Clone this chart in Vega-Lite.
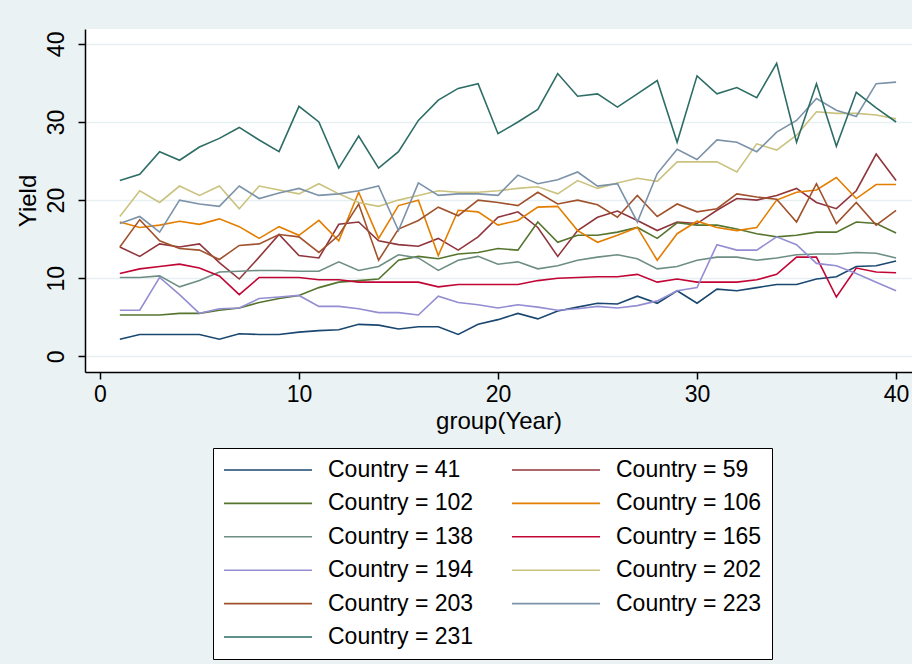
{
"$schema": "https://vega.github.io/schema/vega-lite/v6.json",
"width": 827, "height": 343,
"autosize": {"type": "none"},
"padding": {"left": 85, "top": 29, "right": 0, "bottom": 292},
"background": "#eaf2f3",
"config": {"view": {"fill": "white", "stroke": null}, "font": "Liberation Sans"},
"data": {"values": [
{"Country":"41","Year":1,"Yield":2.2},{"Country":"41","Year":2,"Yield":2.8},{"Country":"41","Year":3,"Yield":2.8},{"Country":"41","Year":4,"Yield":2.8},{"Country":"41","Year":5,"Yield":2.8},{"Country":"41","Year":6,"Yield":2.2},{"Country":"41","Year":7,"Yield":2.9},{"Country":"41","Year":8,"Yield":2.8},{"Country":"41","Year":9,"Yield":2.8},{"Country":"41","Year":10,"Yield":3.1},{"Country":"41","Year":11,"Yield":3.3},{"Country":"41","Year":12,"Yield":3.4},{"Country":"41","Year":13,"Yield":4.1},{"Country":"41","Year":14,"Yield":4.0},{"Country":"41","Year":15,"Yield":3.5},{"Country":"41","Year":16,"Yield":3.8},{"Country":"41","Year":17,"Yield":3.8},{"Country":"41","Year":18,"Yield":2.8},{"Country":"41","Year":19,"Yield":4.1},{"Country":"41","Year":20,"Yield":4.7},{"Country":"41","Year":21,"Yield":5.5},{"Country":"41","Year":22,"Yield":4.8},{"Country":"41","Year":23,"Yield":5.8},{"Country":"41","Year":24,"Yield":6.3},{"Country":"41","Year":25,"Yield":6.8},{"Country":"41","Year":26,"Yield":6.7},{"Country":"41","Year":27,"Yield":7.7},{"Country":"41","Year":28,"Yield":6.8},{"Country":"41","Year":29,"Yield":8.4},{"Country":"41","Year":30,"Yield":6.8},{"Country":"41","Year":31,"Yield":8.6},{"Country":"41","Year":32,"Yield":8.4},{"Country":"41","Year":33,"Yield":8.8},{"Country":"41","Year":34,"Yield":9.2},{"Country":"41","Year":35,"Yield":9.2},{"Country":"41","Year":36,"Yield":9.9},{"Country":"41","Year":37,"Yield":10.2},{"Country":"41","Year":38,"Yield":11.5},{"Country":"41","Year":39,"Yield":11.6},{"Country":"41","Year":40,"Yield":12.2},
{"Country":"59","Year":1,"Yield":14.0},{"Country":"59","Year":2,"Yield":12.8},{"Country":"59","Year":3,"Yield":14.4},{"Country":"59","Year":4,"Yield":14.0},{"Country":"59","Year":5,"Yield":14.4},{"Country":"59","Year":6,"Yield":12.0},{"Country":"59","Year":7,"Yield":9.9},{"Country":"59","Year":8,"Yield":12.7},{"Country":"59","Year":9,"Yield":15.6},{"Country":"59","Year":10,"Yield":12.9},{"Country":"59","Year":11,"Yield":12.6},{"Country":"59","Year":12,"Yield":16.9},{"Country":"59","Year":13,"Yield":17.2},{"Country":"59","Year":14,"Yield":14.8},{"Country":"59","Year":15,"Yield":14.3},{"Country":"59","Year":16,"Yield":14.1},{"Country":"59","Year":17,"Yield":15.1},{"Country":"59","Year":18,"Yield":13.6},{"Country":"59","Year":19,"Yield":15.3},{"Country":"59","Year":20,"Yield":17.8},{"Country":"59","Year":21,"Yield":18.5},{"Country":"59","Year":22,"Yield":16.5},{"Country":"59","Year":23,"Yield":12.8},{"Country":"59","Year":24,"Yield":16.1},{"Country":"59","Year":25,"Yield":17.8},{"Country":"59","Year":26,"Yield":18.6},{"Country":"59","Year":27,"Yield":17.4},{"Country":"59","Year":28,"Yield":16.1},{"Country":"59","Year":29,"Yield":17.2},{"Country":"59","Year":30,"Yield":17.0},{"Country":"59","Year":31,"Yield":18.7},{"Country":"59","Year":32,"Yield":20.2},{"Country":"59","Year":33,"Yield":20.0},{"Country":"59","Year":34,"Yield":20.6},{"Country":"59","Year":35,"Yield":21.5},{"Country":"59","Year":36,"Yield":19.7},{"Country":"59","Year":37,"Yield":18.9},{"Country":"59","Year":38,"Yield":21.2},{"Country":"59","Year":39,"Yield":25.9},{"Country":"59","Year":40,"Yield":22.5},
{"Country":"102","Year":1,"Yield":5.3},{"Country":"102","Year":2,"Yield":5.3},{"Country":"102","Year":3,"Yield":5.3},{"Country":"102","Year":4,"Yield":5.5},{"Country":"102","Year":5,"Yield":5.5},{"Country":"102","Year":6,"Yield":5.9},{"Country":"102","Year":7,"Yield":6.2},{"Country":"102","Year":8,"Yield":6.9},{"Country":"102","Year":9,"Yield":7.4},{"Country":"102","Year":10,"Yield":7.8},{"Country":"102","Year":11,"Yield":8.8},{"Country":"102","Year":12,"Yield":9.5},{"Country":"102","Year":13,"Yield":9.7},{"Country":"102","Year":14,"Yield":9.9},{"Country":"102","Year":15,"Yield":12.3},{"Country":"102","Year":16,"Yield":12.8},{"Country":"102","Year":17,"Yield":12.5},{"Country":"102","Year":18,"Yield":13.1},{"Country":"102","Year":19,"Yield":13.3},{"Country":"102","Year":20,"Yield":13.8},{"Country":"102","Year":21,"Yield":13.6},{"Country":"102","Year":22,"Yield":17.2},{"Country":"102","Year":23,"Yield":14.6},{"Country":"102","Year":24,"Yield":15.5},{"Country":"102","Year":25,"Yield":15.5},{"Country":"102","Year":26,"Yield":15.9},{"Country":"102","Year":27,"Yield":16.5},{"Country":"102","Year":28,"Yield":15.1},{"Country":"102","Year":29,"Yield":17.1},{"Country":"102","Year":30,"Yield":16.8},{"Country":"102","Year":31,"Yield":16.8},{"Country":"102","Year":32,"Yield":16.3},{"Country":"102","Year":33,"Yield":15.7},{"Country":"102","Year":34,"Yield":15.3},{"Country":"102","Year":35,"Yield":15.5},{"Country":"102","Year":36,"Yield":15.9},{"Country":"102","Year":37,"Yield":15.9},{"Country":"102","Year":38,"Yield":17.2},{"Country":"102","Year":39,"Yield":17.0},{"Country":"102","Year":40,"Yield":15.8},
{"Country":"106","Year":1,"Yield":17.2},{"Country":"106","Year":2,"Yield":16.5},{"Country":"106","Year":3,"Yield":16.8},{"Country":"106","Year":4,"Yield":17.3},{"Country":"106","Year":5,"Yield":16.9},{"Country":"106","Year":6,"Yield":17.6},{"Country":"106","Year":7,"Yield":16.6},{"Country":"106","Year":8,"Yield":15.1},{"Country":"106","Year":9,"Yield":16.6},{"Country":"106","Year":10,"Yield":15.5},{"Country":"106","Year":11,"Yield":17.4},{"Country":"106","Year":12,"Yield":14.8},{"Country":"106","Year":13,"Yield":21.0},{"Country":"106","Year":14,"Yield":15.1},{"Country":"106","Year":15,"Yield":19.3},{"Country":"106","Year":16,"Yield":20.0},{"Country":"106","Year":17,"Yield":12.9},{"Country":"106","Year":18,"Yield":18.7},{"Country":"106","Year":19,"Yield":18.5},{"Country":"106","Year":20,"Yield":16.8},{"Country":"106","Year":21,"Yield":17.4},{"Country":"106","Year":22,"Yield":19.1},{"Country":"106","Year":23,"Yield":19.2},{"Country":"106","Year":24,"Yield":16.1},{"Country":"106","Year":25,"Yield":14.6},{"Country":"106","Year":26,"Yield":15.5},{"Country":"106","Year":27,"Yield":16.5},{"Country":"106","Year":28,"Yield":12.3},{"Country":"106","Year":29,"Yield":15.7},{"Country":"106","Year":30,"Yield":17.3},{"Country":"106","Year":31,"Yield":16.5},{"Country":"106","Year":32,"Yield":16.1},{"Country":"106","Year":33,"Yield":16.5},{"Country":"106","Year":34,"Yield":20.0},{"Country":"106","Year":35,"Yield":21.0},{"Country":"106","Year":36,"Yield":21.3},{"Country":"106","Year":37,"Yield":22.9},{"Country":"106","Year":38,"Yield":20.2},{"Country":"106","Year":39,"Yield":22.0},{"Country":"106","Year":40,"Yield":22.0},
{"Country":"138","Year":1,"Yield":10.1},{"Country":"138","Year":2,"Yield":10.1},{"Country":"138","Year":3,"Yield":10.3},{"Country":"138","Year":4,"Yield":8.9},{"Country":"138","Year":5,"Yield":9.7},{"Country":"138","Year":6,"Yield":10.8},{"Country":"138","Year":7,"Yield":10.9},{"Country":"138","Year":8,"Yield":11.0},{"Country":"138","Year":9,"Yield":11.0},{"Country":"138","Year":10,"Yield":10.9},{"Country":"138","Year":11,"Yield":10.9},{"Country":"138","Year":12,"Yield":12.1},{"Country":"138","Year":13,"Yield":11.0},{"Country":"138","Year":14,"Yield":11.5},{"Country":"138","Year":15,"Yield":13.0},{"Country":"138","Year":16,"Yield":12.6},{"Country":"138","Year":17,"Yield":11.0},{"Country":"138","Year":18,"Yield":12.3},{"Country":"138","Year":19,"Yield":12.8},{"Country":"138","Year":20,"Yield":11.8},{"Country":"138","Year":21,"Yield":12.1},{"Country":"138","Year":22,"Yield":11.2},{"Country":"138","Year":23,"Yield":11.6},{"Country":"138","Year":24,"Yield":12.3},{"Country":"138","Year":25,"Yield":12.7},{"Country":"138","Year":26,"Yield":13.0},{"Country":"138","Year":27,"Yield":12.5},{"Country":"138","Year":28,"Yield":11.2},{"Country":"138","Year":29,"Yield":11.5},{"Country":"138","Year":30,"Yield":12.3},{"Country":"138","Year":31,"Yield":12.7},{"Country":"138","Year":32,"Yield":12.7},{"Country":"138","Year":33,"Yield":12.3},{"Country":"138","Year":34,"Yield":12.6},{"Country":"138","Year":35,"Yield":13.0},{"Country":"138","Year":36,"Yield":13.1},{"Country":"138","Year":37,"Yield":13.1},{"Country":"138","Year":38,"Yield":13.3},{"Country":"138","Year":39,"Yield":13.2},{"Country":"138","Year":40,"Yield":12.6},
{"Country":"165","Year":1,"Yield":10.6},{"Country":"165","Year":2,"Yield":11.2},{"Country":"165","Year":3,"Yield":11.5},{"Country":"165","Year":4,"Yield":11.8},{"Country":"165","Year":5,"Yield":11.3},{"Country":"165","Year":6,"Yield":10.3},{"Country":"165","Year":7,"Yield":7.9},{"Country":"165","Year":8,"Yield":10.1},{"Country":"165","Year":9,"Yield":10.1},{"Country":"165","Year":10,"Yield":10.1},{"Country":"165","Year":11,"Yield":9.8},{"Country":"165","Year":12,"Yield":9.8},{"Country":"165","Year":13,"Yield":9.5},{"Country":"165","Year":14,"Yield":9.5},{"Country":"165","Year":15,"Yield":9.5},{"Country":"165","Year":16,"Yield":9.5},{"Country":"165","Year":17,"Yield":8.9},{"Country":"165","Year":18,"Yield":9.2},{"Country":"165","Year":19,"Yield":9.2},{"Country":"165","Year":20,"Yield":9.2},{"Country":"165","Year":21,"Yield":9.2},{"Country":"165","Year":22,"Yield":9.7},{"Country":"165","Year":23,"Yield":10.0},{"Country":"165","Year":24,"Yield":10.1},{"Country":"165","Year":25,"Yield":10.2},{"Country":"165","Year":26,"Yield":10.2},{"Country":"165","Year":27,"Yield":10.5},{"Country":"165","Year":28,"Yield":9.5},{"Country":"165","Year":29,"Yield":9.9},{"Country":"165","Year":30,"Yield":9.5},{"Country":"165","Year":31,"Yield":9.5},{"Country":"165","Year":32,"Yield":9.5},{"Country":"165","Year":33,"Yield":9.8},{"Country":"165","Year":34,"Yield":10.5},{"Country":"165","Year":35,"Yield":12.7},{"Country":"165","Year":36,"Yield":12.7},{"Country":"165","Year":37,"Yield":7.6},{"Country":"165","Year":38,"Yield":11.3},{"Country":"165","Year":39,"Yield":10.8},{"Country":"165","Year":40,"Yield":10.7},
{"Country":"194","Year":1,"Yield":5.9},{"Country":"194","Year":2,"Yield":5.9},{"Country":"194","Year":3,"Yield":10.1},{"Country":"194","Year":4,"Yield":7.9},{"Country":"194","Year":5,"Yield":5.5},{"Country":"194","Year":6,"Yield":6.1},{"Country":"194","Year":7,"Yield":6.2},{"Country":"194","Year":8,"Yield":7.4},{"Country":"194","Year":9,"Yield":7.6},{"Country":"194","Year":10,"Yield":7.8},{"Country":"194","Year":11,"Yield":6.4},{"Country":"194","Year":12,"Yield":6.4},{"Country":"194","Year":13,"Yield":6.1},{"Country":"194","Year":14,"Yield":5.6},{"Country":"194","Year":15,"Yield":5.6},{"Country":"194","Year":16,"Yield":5.3},{"Country":"194","Year":17,"Yield":7.7},{"Country":"194","Year":18,"Yield":6.9},{"Country":"194","Year":19,"Yield":6.6},{"Country":"194","Year":20,"Yield":6.2},{"Country":"194","Year":21,"Yield":6.6},{"Country":"194","Year":22,"Yield":6.3},{"Country":"194","Year":23,"Yield":5.9},{"Country":"194","Year":24,"Yield":6.1},{"Country":"194","Year":25,"Yield":6.4},{"Country":"194","Year":26,"Yield":6.2},{"Country":"194","Year":27,"Yield":6.5},{"Country":"194","Year":28,"Yield":7.1},{"Country":"194","Year":29,"Yield":8.4},{"Country":"194","Year":30,"Yield":8.8},{"Country":"194","Year":31,"Yield":14.3},{"Country":"194","Year":32,"Yield":13.6},{"Country":"194","Year":33,"Yield":13.6},{"Country":"194","Year":34,"Yield":15.3},{"Country":"194","Year":35,"Yield":14.3},{"Country":"194","Year":36,"Yield":11.9},{"Country":"194","Year":37,"Yield":11.6},{"Country":"194","Year":38,"Yield":10.6},{"Country":"194","Year":39,"Yield":9.5},{"Country":"194","Year":40,"Yield":8.4},
{"Country":"202","Year":1,"Yield":17.9},{"Country":"202","Year":2,"Yield":21.2},{"Country":"202","Year":3,"Yield":19.7},{"Country":"202","Year":4,"Yield":21.8},{"Country":"202","Year":5,"Yield":20.6},{"Country":"202","Year":6,"Yield":21.8},{"Country":"202","Year":7,"Yield":18.9},{"Country":"202","Year":8,"Yield":21.8},{"Country":"202","Year":9,"Yield":21.3},{"Country":"202","Year":10,"Yield":20.8},{"Country":"202","Year":11,"Yield":22.1},{"Country":"202","Year":12,"Yield":20.8},{"Country":"202","Year":13,"Yield":19.7},{"Country":"202","Year":14,"Yield":19.2},{"Country":"202","Year":15,"Yield":20.0},{"Country":"202","Year":16,"Yield":20.6},{"Country":"202","Year":17,"Yield":21.2},{"Country":"202","Year":18,"Yield":21.0},{"Country":"202","Year":19,"Yield":21.0},{"Country":"202","Year":20,"Yield":21.2},{"Country":"202","Year":21,"Yield":21.5},{"Country":"202","Year":22,"Yield":21.7},{"Country":"202","Year":23,"Yield":20.8},{"Country":"202","Year":24,"Yield":22.5},{"Country":"202","Year":25,"Yield":21.5},{"Country":"202","Year":26,"Yield":22.2},{"Country":"202","Year":27,"Yield":22.8},{"Country":"202","Year":28,"Yield":22.4},{"Country":"202","Year":29,"Yield":24.9},{"Country":"202","Year":30,"Yield":24.9},{"Country":"202","Year":31,"Yield":24.9},{"Country":"202","Year":32,"Yield":23.6},{"Country":"202","Year":33,"Yield":27.2},{"Country":"202","Year":34,"Yield":26.4},{"Country":"202","Year":35,"Yield":28.3},{"Country":"202","Year":36,"Yield":31.3},{"Country":"202","Year":37,"Yield":31.1},{"Country":"202","Year":38,"Yield":31.1},{"Country":"202","Year":39,"Yield":30.9},{"Country":"202","Year":40,"Yield":30.4},
{"Country":"203","Year":1,"Yield":14.0},{"Country":"203","Year":2,"Yield":17.5},{"Country":"203","Year":3,"Yield":14.8},{"Country":"203","Year":4,"Yield":13.8},{"Country":"203","Year":5,"Yield":13.6},{"Country":"203","Year":6,"Yield":12.4},{"Country":"203","Year":7,"Yield":14.2},{"Country":"203","Year":8,"Yield":14.4},{"Country":"203","Year":9,"Yield":15.6},{"Country":"203","Year":10,"Yield":15.3},{"Country":"203","Year":11,"Yield":13.3},{"Country":"203","Year":12,"Yield":15.5},{"Country":"203","Year":13,"Yield":19.5},{"Country":"203","Year":14,"Yield":12.3},{"Country":"203","Year":15,"Yield":16.3},{"Country":"203","Year":16,"Yield":17.4},{"Country":"203","Year":17,"Yield":19.1},{"Country":"203","Year":18,"Yield":18.0},{"Country":"203","Year":19,"Yield":20.0},{"Country":"203","Year":20,"Yield":19.7},{"Country":"203","Year":21,"Yield":19.3},{"Country":"203","Year":22,"Yield":21.0},{"Country":"203","Year":23,"Yield":19.5},{"Country":"203","Year":24,"Yield":20.0},{"Country":"203","Year":25,"Yield":19.4},{"Country":"203","Year":26,"Yield":17.8},{"Country":"203","Year":27,"Yield":20.6},{"Country":"203","Year":28,"Yield":17.9},{"Country":"203","Year":29,"Yield":19.5},{"Country":"203","Year":30,"Yield":18.5},{"Country":"203","Year":31,"Yield":18.9},{"Country":"203","Year":32,"Yield":20.8},{"Country":"203","Year":33,"Yield":20.4},{"Country":"203","Year":34,"Yield":20.1},{"Country":"203","Year":35,"Yield":17.2},{"Country":"203","Year":36,"Yield":22.1},{"Country":"203","Year":37,"Yield":17.0},{"Country":"203","Year":38,"Yield":19.7},{"Country":"203","Year":39,"Yield":16.8},{"Country":"203","Year":40,"Yield":18.7},
{"Country":"223","Year":1,"Yield":17.0},{"Country":"223","Year":2,"Yield":17.9},{"Country":"223","Year":3,"Yield":15.9},{"Country":"223","Year":4,"Yield":20.0},{"Country":"223","Year":5,"Yield":19.5},{"Country":"223","Year":6,"Yield":19.2},{"Country":"223","Year":7,"Yield":21.8},{"Country":"223","Year":8,"Yield":20.2},{"Country":"223","Year":9,"Yield":20.9},{"Country":"223","Year":10,"Yield":21.5},{"Country":"223","Year":11,"Yield":20.6},{"Country":"223","Year":12,"Yield":20.8},{"Country":"223","Year":13,"Yield":21.2},{"Country":"223","Year":14,"Yield":21.8},{"Country":"223","Year":15,"Yield":16.1},{"Country":"223","Year":16,"Yield":22.2},{"Country":"223","Year":17,"Yield":20.6},{"Country":"223","Year":18,"Yield":20.8},{"Country":"223","Year":19,"Yield":20.8},{"Country":"223","Year":20,"Yield":20.6},{"Country":"223","Year":21,"Yield":23.2},{"Country":"223","Year":22,"Yield":22.1},{"Country":"223","Year":23,"Yield":22.6},{"Country":"223","Year":24,"Yield":23.6},{"Country":"223","Year":25,"Yield":21.8},{"Country":"223","Year":26,"Yield":22.1},{"Country":"223","Year":27,"Yield":17.2},{"Country":"223","Year":28,"Yield":23.4},{"Country":"223","Year":29,"Yield":26.5},{"Country":"223","Year":30,"Yield":25.2},{"Country":"223","Year":31,"Yield":27.7},{"Country":"223","Year":32,"Yield":27.4},{"Country":"223","Year":33,"Yield":26.2},{"Country":"223","Year":34,"Yield":28.7},{"Country":"223","Year":35,"Yield":30.2},{"Country":"223","Year":36,"Yield":33.0},{"Country":"223","Year":37,"Yield":31.5},{"Country":"223","Year":38,"Yield":30.7},{"Country":"223","Year":39,"Yield":34.9},{"Country":"223","Year":40,"Yield":35.1},
{"Country":"231","Year":1,"Yield":22.5},{"Country":"231","Year":2,"Yield":23.3},{"Country":"231","Year":3,"Yield":26.2},{"Country":"231","Year":4,"Yield":25.1},{"Country":"231","Year":5,"Yield":26.8},{"Country":"231","Year":6,"Yield":27.9},{"Country":"231","Year":7,"Yield":29.3},{"Country":"231","Year":8,"Yield":27.7},{"Country":"231","Year":9,"Yield":26.2},{"Country":"231","Year":10,"Yield":32.0},{"Country":"231","Year":11,"Yield":30.0},{"Country":"231","Year":12,"Yield":24.1},{"Country":"231","Year":13,"Yield":28.2},{"Country":"231","Year":14,"Yield":24.1},{"Country":"231","Year":15,"Yield":26.2},{"Country":"231","Year":16,"Yield":30.2},{"Country":"231","Year":17,"Yield":32.8},{"Country":"231","Year":18,"Yield":34.3},{"Country":"231","Year":19,"Yield":34.9},{"Country":"231","Year":20,"Yield":28.5},{"Country":"231","Year":21,"Yield":30.0},{"Country":"231","Year":22,"Yield":31.6},{"Country":"231","Year":23,"Yield":36.2},{"Country":"231","Year":24,"Yield":33.3},{"Country":"231","Year":25,"Yield":33.6},{"Country":"231","Year":26,"Yield":31.9},{"Country":"231","Year":27,"Yield":33.6},{"Country":"231","Year":28,"Yield":35.3},{"Country":"231","Year":29,"Yield":27.4},{"Country":"231","Year":30,"Yield":35.9},{"Country":"231","Year":31,"Yield":33.6},{"Country":"231","Year":32,"Yield":34.4},{"Country":"231","Year":33,"Yield":33.1},{"Country":"231","Year":34,"Yield":37.5},{"Country":"231","Year":35,"Yield":27.4},{"Country":"231","Year":36,"Yield":34.9},{"Country":"231","Year":37,"Yield":26.9},{"Country":"231","Year":38,"Yield":33.8},{"Country":"231","Year":39,"Yield":31.8},{"Country":"231","Year":40,"Yield":30.0}
]},
"mark": {"type": "line", "strokeWidth": 1.6, "clip": true},
"encoding": {
  "x": {"field": "Year", "type": "quantitative",
    "scale": {"domain": [-0.75, 40.8], "nice": false, "zero": false},
    "axis": {"values": [0, 10, 20, 30, 40], "title": "group(Year)", "grid": false,
      "domainColor": "black", "domainWidth": 1.5, "tickColor": "black", "tickSize": 7, "tickWidth": 1.5,
      "labelFontSize": 23, "labelColor": "black", "labelPadding": 4, "labelFlush": false,
      "titleFontSize": 24, "titleFontWeight": "normal", "titleColor": "black", "titlePadding": 3}},
  "y": {"field": "Yield", "type": "quantitative",
    "scale": {"domain": [-2, 41.9], "nice": false, "zero": false},
    "axis": {"values": [0, 10, 20, 30, 40], "title": "Yield", "grid": true, "gridColor": "#e6eff1", "gridWidth": 1.5,
      "domainColor": "black", "domainWidth": 1.5, "tickColor": "black", "tickSize": 7, "tickWidth": 1.5,
      "labelFontSize": 23, "labelColor": "black", "labelAngle": 270, "labelPadding": 10, "labelFlush": false,
      "titleFontSize": 24, "titleFontWeight": "normal", "titleColor": "black", "titlePadding": 5}},
  "color": {"field": "Country", "type": "nominal",
    "scale": {"domain": ["41","102","138","194","203","231","59","106","165","202","223"],
      "range": ["#1a476f","#55752f","#6e8e84","#938dd2","#a0522d","#2d6d66","#90353b","#e37e00","#c10534","#cac27e","#7b92a8"]},
    "legend": {"title": null, "orient": "none", "legendX": 128, "legendY": 419, "columns": 2,
      "symbolType": "stroke", "symbolSize": 7744, "symbolStrokeWidth": 1.6, "clipHeight": 24,
      "labelFontSize": 23, "labelColor": "black", "labelOffset": 15, "labelLimit": 400,
      "labelExpr": "'Country = ' + datum.label + '\u00a0\u00a0\u00a0\u00a0'",
      "rowPadding": 9.4, "columnPadding": 37, "padding": 10,
      "strokeColor": "black", "fillColor": "white"}}
}
}
